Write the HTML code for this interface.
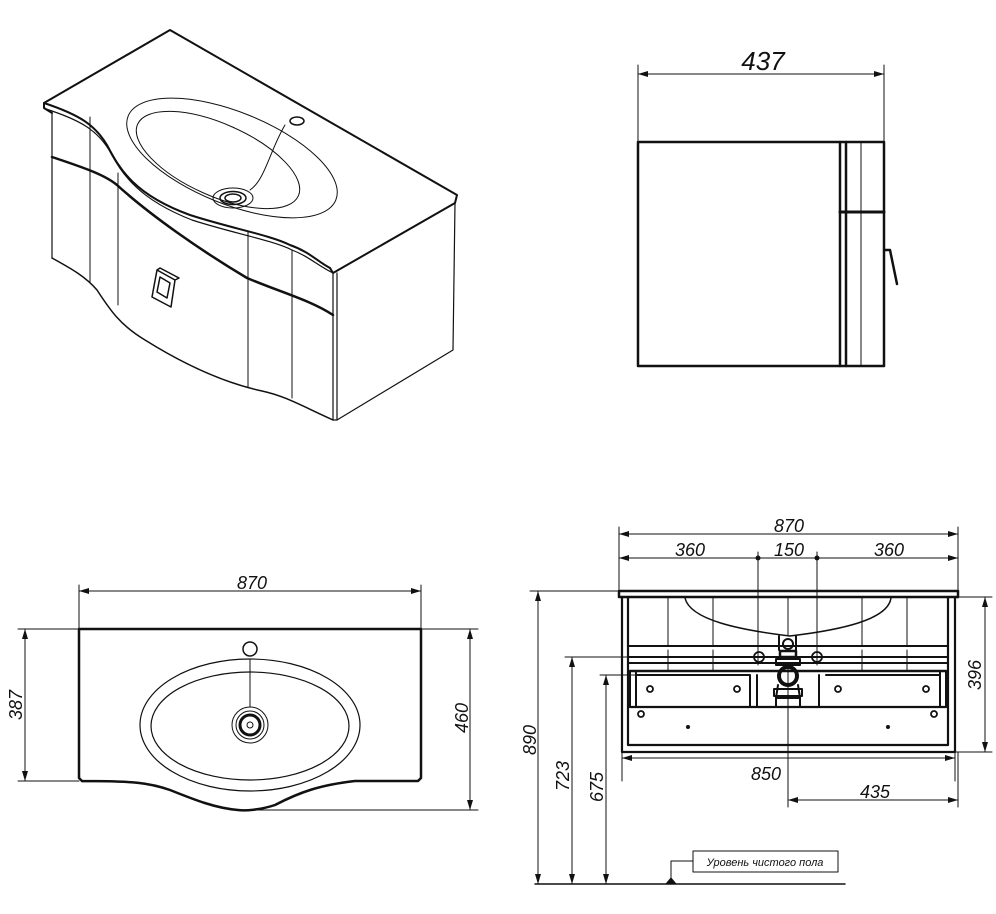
<!DOCTYPE html>
<html><head><meta charset="utf-8"><style>
html,body{margin:0;padding:0;background:#fff;}
svg{display:block;}
text{font-family:"Liberation Sans",sans-serif;font-style:italic;fill:#111;}
</style></head><body>
<svg width="996" height="914" viewBox="0 0 996 914" xmlns="http://www.w3.org/2000/svg">
<defs>
<marker id="a" viewBox="0 0 10 6" refX="10" refY="3" markerWidth="10" markerHeight="6" orient="auto-start-reverse" markerUnits="userSpaceOnUse"><path d="M0,0 L10,3 L0,6 z" fill="#111"/></marker>
</defs>
<g fill="none" stroke="#111" stroke-linejoin="round" stroke-linecap="round">
<!-- ISOMETRIC -->
<path d="M44,103 L170,30 L457,195 L455,203 L333,273 L330,268" stroke-width="2"/>
<path d="M44,103 L44,108 L52,113" stroke-width="2"/>
<path d="M44,103 C80,115 95,125 107,145 C120,170 135,195 190,215 C230,228 270,235 290,245 C310,252 318,262 330,268" stroke-width="2"/>
<path d="M46,109 C80,120 97,130 109,150 C122,174 138,199 192,220 C232,233 272,240 292,250 C310,257 318,266 333,273" stroke-width="1.2"/>
<path d="M52,113 L52,258" stroke-width="1.2"/>
<path d="M333,273 L333,420 M337,273 L337,420" stroke-width="1.2"/>
<path d="M455,203 L453,350 L337,420 L333,420" stroke-width="1.2"/>
<path d="M52,157 C85,168 105,175 117,185 C150,215 200,250 247,278 C280,292 310,300 333,315" stroke-width="2.5"/>
<path d="M52,258 C70,268 85,276 97,290 C110,310 120,325 145,340 C185,365 225,383 262,391 C285,396 300,405 333,420" stroke-width="1.5"/>
<path d="M90,117 L90,283 M118,173 L118,305 M248,232 L248,387 M292,250 L292,398" stroke-width="1"/>
<ellipse cx="232" cy="158" rx="112" ry="46" transform="rotate(22 232 158)" stroke-width="1"/>
<ellipse cx="218" cy="160" rx="88" ry="36" transform="rotate(24 218 160)" stroke-width="1"/>
<ellipse cx="233" cy="198" rx="20" ry="10" stroke-width="1"/>
<ellipse cx="233" cy="198" rx="13" ry="6.5" stroke-width="1.5"/>
<ellipse cx="233" cy="198" rx="8" ry="4" stroke-width="1.5"/>
<path d="M250,190 C265,180 270,150 285,125" stroke-width="1"/>
<ellipse cx="297" cy="121" rx="7" ry="4" stroke-width="1.5"/>
<path d="M152,297 L157,270 L175,280 L171,307 Z M157,292 L160,277 L170,283 L167,298 Z M157,270 L160,268 L179,278 L175,280" stroke-width="1.5"/>
<!-- SIDE VIEW -->
<rect x="638" y="142" width="246" height="224" stroke-width="2.5"/>
<path d="M840,142 V366 M846,142 V366" stroke-width="2.5"/>
<path d="M861,142 V366" stroke-width="1"/>
<path d="M840,212 H884" stroke-width="3"/>
<path d="M885,250 H890 L897,284" stroke-width="2.5"/>
<path d="M638,65 V142 M884,65 V142" stroke-width="1"/>
<path d="M638,74 H884" stroke-width="1" marker-start="url(#a)" marker-end="url(#a)"/>
<!-- TOP VIEW -->
<path d="M82,781 L79,778 L79,629 L421,629 L421,778 L418,781 L355,781 C320,785 300,792 275,805 C260,810 245,811 238,810 C215,808 195,800 170,790 C150,783 135,781 82,781" stroke-width="2.5"/>
<ellipse cx="250" cy="725" rx="110" ry="66" stroke-width="1.2"/>
<ellipse cx="250" cy="726" rx="99" ry="54" stroke-width="1.2"/>
<circle cx="250" cy="649" r="7" stroke-width="1.5"/>
<path d="M250,659 V707" stroke-width="1"/>
<circle cx="250" cy="725" r="18" stroke-width="1"/>
<circle cx="250" cy="725" r="14" stroke-width="1"/>
<circle cx="250" cy="725" r="10" stroke-width="3"/>
<circle cx="250" cy="725" r="3" stroke-width="1"/>
<path d="M79,585 V629 M421,585 V629" stroke-width="1"/>
<path d="M79,591 H421" stroke-width="1" marker-start="url(#a)" marker-end="url(#a)"/>
<path d="M18,629 H79 M18,781 H79" stroke-width="1"/>
<path d="M25,629 V781" stroke-width="1" marker-start="url(#a)" marker-end="url(#a)"/>
<path d="M421,629 H478 M250,810 H478" stroke-width="1"/>
<path d="M470,629 V810" stroke-width="1" marker-start="url(#a)" marker-end="url(#a)"/>
<!-- FRONT VIEW -->
<rect x="619" y="591" width="339" height="6" stroke-width="2.5"/>
<path d="M622,597 V752 H955 V597 M628,597 V745 H948 V597" stroke-width="2.2"/>
<path d="M685,598 C690,620 740,630 790,636 C840,630 888,620 891,598" stroke-width="1.5"/>
<path d="M668,598 V646 M713,598 V646 M862,598 V646 M907,598 V646 M668,650 V671 M713,650 V671 M862,650 V671 M907,650 V671 M788,598 V636" stroke-width="1"/>
<path d="M628,646 H948 M628,657 H948 M628,663 H948" stroke-width="2"/>
<path d="M630,671 H946" stroke-width="2.5"/>
<path d="M630,707 H946" stroke-width="2.2"/>
<rect x="630" y="671" width="6" height="36" stroke-width="2"/>
<rect x="940" y="671" width="6" height="36" stroke-width="2"/>
<path d="M636,675 H750 V707 M757,675 V707 M819,675 V707 M826,675 H940" stroke-width="2"/>
<circle cx="650" cy="689" r="3" stroke-width="1.8"/><circle cx="737" cy="689" r="3" stroke-width="1.8"/>
<circle cx="838" cy="689" r="3" stroke-width="1.8"/><circle cx="926" cy="689" r="3" stroke-width="1.8"/>
<circle cx="641" cy="714" r="3" stroke-width="1.8"/><circle cx="934" cy="714" r="3" stroke-width="1.8"/>
<circle cx="688" cy="727" r="1.5" fill="#111"/><circle cx="888" cy="727" r="1.5" fill="#111"/>
<circle cx="759" cy="657" r="5" stroke-width="1.8"/><circle cx="817" cy="657" r="5" stroke-width="1.8"/>
<path d="M779,636 V650 M796,636 V650" stroke-width="2"/>
<circle cx="788" cy="644" r="5" stroke-width="2"/>
<rect x="780" y="651" width="16" height="6" stroke-width="2.5"/>
<rect x="776" y="659" width="24" height="6" stroke-width="2"/>
<circle cx="788" cy="676" r="9" stroke-width="4"/>
<path d="M778,685 L776,698 H800 L798,685" stroke-width="2"/>
<rect x="774" y="689" width="28" height="7" stroke-width="2"/>
<path d="M776,698 V707 M800,698 V707" stroke-width="2"/>
<!-- front dims -->
<path d="M619,527 V591 M958,527 V598" stroke-width="1"/>
<path d="M619,534 H958" stroke-width="1" marker-start="url(#a)" marker-end="url(#a)"/>
<path d="M619,558 H758" stroke-width="1" marker-start="url(#a)"/>
<path d="M758,558 H817" stroke-width="1"/>
<path d="M817,558 H958" stroke-width="1" marker-end="url(#a)"/>
<circle cx="758" cy="558" r="2" fill="#111"/><circle cx="817" cy="558" r="2" fill="#111"/>
<path d="M758,552 V665 M817,552 V665" stroke-width="1"/>
<path d="M955,597 H992 M955,752 H992" stroke-width="1"/>
<path d="M985,597 V752" stroke-width="1" marker-start="url(#a)" marker-end="url(#a)"/>
<path d="M530,591 H619" stroke-width="1"/>
<path d="M538,591 V884" stroke-width="1" marker-start="url(#a)" marker-end="url(#a)"/>
<path d="M565,657 H790" stroke-width="1"/>
<path d="M572,657 V884" stroke-width="1" marker-start="url(#a)" marker-end="url(#a)"/>
<path d="M600,675 H640" stroke-width="1"/>
<path d="M606,675 V884" stroke-width="1" marker-start="url(#a)" marker-end="url(#a)"/>
<path d="M622,752 V781 M955,752 V781" stroke-width="1"/>
<path d="M622,758 H955" stroke-width="1" marker-start="url(#a)" marker-end="url(#a)"/>
<path d="M788,665 V807 M958,752 V807" stroke-width="1"/>
<path d="M788,800 H958" stroke-width="1" marker-start="url(#a)" marker-end="url(#a)"/>
<path d="M535,884 H845" stroke-width="1.5"/>
<path d="M671,881 V861 H693" stroke-width="1"/>
<path d="M666,884 L671,878 L676,884 Z" fill="#111" stroke-width="1"/>
<rect x="693" y="851" width="145" height="21" stroke-width="1"/>
</g>
<g font-size="18">
<text x="763" y="70" text-anchor="middle" font-size="26">437</text>
<text x="252" y="589" text-anchor="middle">870</text>
<text x="0" y="0" text-anchor="middle" transform="translate(22,705) rotate(-90)">387</text>
<text x="0" y="0" text-anchor="middle" transform="translate(468,718) rotate(-90)">460</text>
<text x="789" y="532" text-anchor="middle">870</text>
<text x="690" y="556" text-anchor="middle">360</text>
<text x="789" y="556" text-anchor="middle">150</text>
<text x="889" y="556" text-anchor="middle">360</text>
<text x="0" y="0" text-anchor="middle" transform="translate(981,675) rotate(-90)">396</text>
<text x="0" y="0" text-anchor="middle" transform="translate(536,740) rotate(-90)">890</text>
<text x="0" y="0" text-anchor="middle" transform="translate(569,776) rotate(-90)">723</text>
<text x="0" y="0" text-anchor="middle" transform="translate(603,787) rotate(-90)">675</text>
<text x="766" y="780" text-anchor="middle">850</text>
<text x="875" y="798" text-anchor="middle">435</text>
<text x="765" y="866" text-anchor="middle" font-size="11">Уровень чистого пола</text>
</g>
</svg>
</body></html>
